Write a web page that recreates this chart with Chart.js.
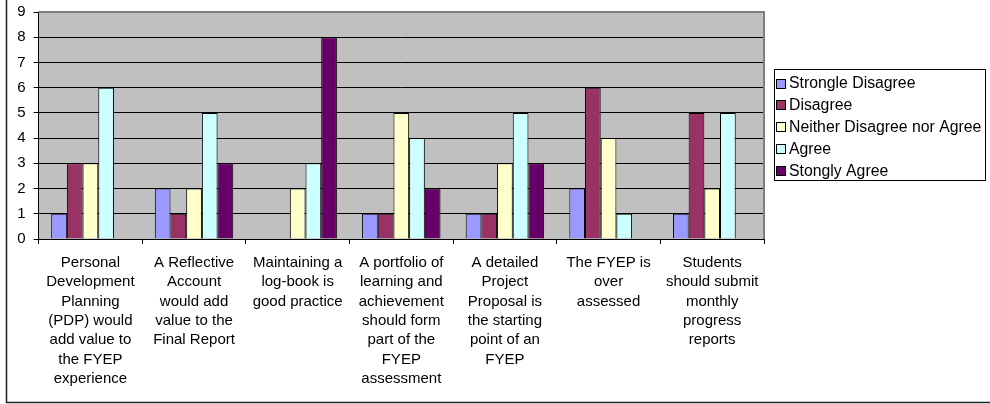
<!DOCTYPE html>
<html>
<head>
<meta charset="utf-8">
<script src="https://cdn.jsdelivr.net/npm/chart.js@4/dist/chart.umd.min.js"></script>
<style>
html,body{margin:0;padding:0;background:#fff;}
#wrap{width:990px;height:404px;position:relative;}
</style>
</head>
<body>
<div id="wrap"><canvas id="c"></canvas></div>
<script>
const categories = [
  ["Personal","Development","Planning","(PDP) would","add value to","the FYEP","experience"],
  ["A Reflective","Account","would add","value to the","Final Report"],
  ["Maintaining a","log-book is","good practice"],
  ["A portfolio of","learning and","achievement","should form","part of the","FYEP","assessment"],
  ["A detailed","Project","Proposal is","the starting","point of an","FYEP"],
  ["The FYEP is","over","assessed"],
  ["Students","should submit","monthly","progress","reports"]
];
const seriesNames = ["Strongle Disagree","Disagree","Neither Disagree nor Agree","Agree","Stongly Agree"];
const stronglyDisagree = [1,2,0,1,1,2,1];
const disagree         = [3,1,0,1,1,6,5];
const neither          = [3,2,2,5,3,4,2];
const agree            = [6,5,3,4,5,1,5];
const stronglyAgree    = [0,3,8,2,3,0,0];
const yTicks = [0,1,2,3,4,5,6,7,8,9];
const colors = ["#9999FF","#993366","#FFFFCC","#CCFFFF","#660066"];

const FONT = "'Liberation Sans', Arial, sans-serif";

const seriesValues = [stronglyDisagree, disagree, neither, agree, stronglyAgree];
const datasets = seriesValues.map((vals,i)=>({
  label: seriesNames[i],
  data: vals,
  backgroundColor: colors[i],
  borderColor: "#000",
  borderWidth: 1,
  categoryPercentage: 0.757,
  barPercentage: 1.0
}));

const framePlugin = {
  id: 'frame',
  beforeDraw(chart){
    const {ctx, chartArea:a} = chart;
    ctx.save();
    ctx.fillStyle = "#fff";
    ctx.fillRect(0,0,chart.width,chart.height);
    ctx.fillStyle = "#C0C0C0";
    ctx.fillRect(a.left, a.top, a.right-a.left, a.bottom-a.top);
    ctx.restore();
  },
  afterDraw(chart){
    const {ctx, chartArea:a} = chart;
    ctx.save();
    ctx.strokeStyle = "#808080";
    ctx.lineWidth = 2;
    ctx.beginPath();
    ctx.moveTo(a.left, a.top);
    ctx.lineTo(a.right, a.top);
    ctx.lineTo(a.right, a.bottom);
    ctx.stroke();
    ctx.strokeStyle = "#202020";
    ctx.lineWidth = 1.5;
    ctx.strokeRect(6.5, -5, 1000, 407.5);
    const lx = 774.5, ly = 69.5, lw = 211, lh = 111;
    ctx.strokeStyle = "#000";
    ctx.lineWidth = 1;
    ctx.fillStyle = "#fff";
    ctx.fillRect(lx, ly, lw, lh);
    ctx.strokeRect(lx, ly, lw, lh);
    ctx.font = "15.8px " + FONT;
    ctx.textBaseline = "middle";
    chart.data.datasets.forEach((ds,i)=>{
      const cy = 83.5 + i*21.8;
      ctx.fillStyle = ds.backgroundColor;
      ctx.fillRect(776.5, Math.round(cy)-4.5, 9, 9);
      ctx.strokeStyle = "#000";
      ctx.strokeRect(776.5, Math.round(cy)-4.5, 9, 9);
      ctx.fillStyle = "#000";
      ctx.fillText(ds.label, 789, cy+0.5);
    });
    ctx.restore();
  }
};

new Chart(document.getElementById('c'), {
  type: 'bar',
  data: { labels: categories, datasets },
  options: {
    responsive: true,
    maintainAspectRatio: false,
    animation: false,
    layout: { padding: { left: 6, top: 12, right: 226, bottom: 0 } },
    plugins: { legend: { display: false }, tooltip: { enabled: false } },
    scales: {
      x: {
        grid: { display: true, drawOnChartArea: false, drawTicks: true, tickLength: 5, color: "#000", offset: true },
        border: { display: true, color: "#000", width: 1 },
        ticks: {
          autoSkip: false, maxRotation: 0, minRotation: 0,
          color: "#000", padding: 9,
          font: { family: FONT, size: 15, lineHeight: 1.29 }
        },
        afterFit(scale){ scale.height = 165; scale.paddingLeft = 0; scale.paddingRight = 0; }
      },
      y: {
        min: 0, max: 9,
        afterBuildTicks(scale){ scale.ticks = yTicks.map(v=>({value:v})); },
        grid: { color: "#000", lineWidth: 1, drawTicks: true, tickLength: 5 },
        border: { display: true, color: "#000", width: 1 },
        ticks: { color: "#000", padding: 8, font: { family: FONT, size: 15 } },
        afterFit(scale){ scale.width = 32.6; scale.paddingTop = 0; scale.paddingBottom = 0; }
      }
    }
  },
  plugins: [framePlugin]
});
</script>
</body>
</html>
